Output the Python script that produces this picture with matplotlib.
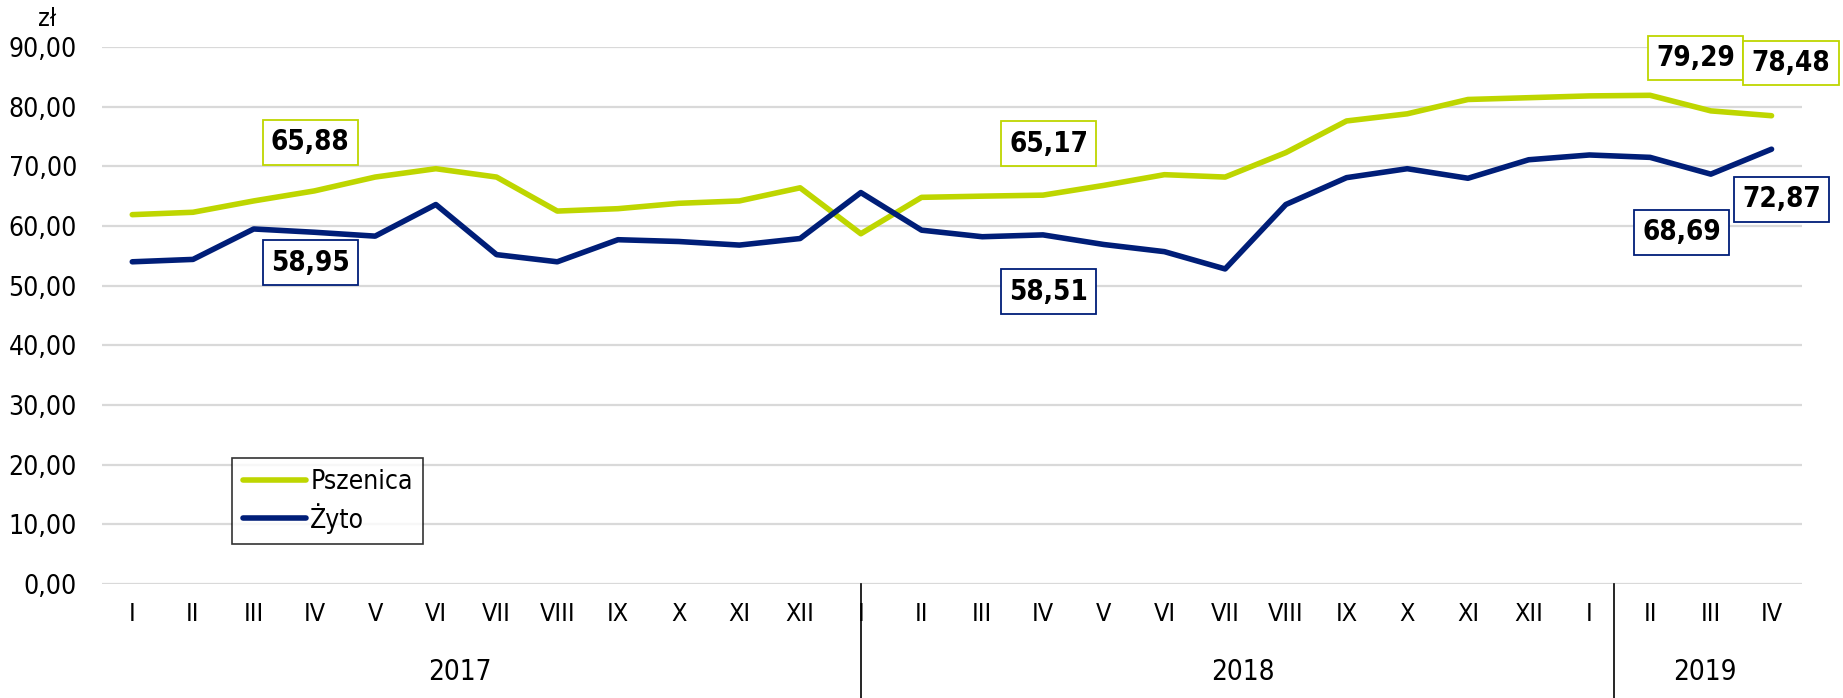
import numpy as np
import matplotlib
matplotlib.use('Agg')
import matplotlib.pyplot as plt

plt.rcParams['font.family'] = ['DejaVu Sans']
plt.rcParams['font.stretch'] = 'condensed'

months = ['I', 'II', 'III', 'IV', 'V', 'VI', 'VII', 'VIII', 'IX', 'X', 'XI', 'XII',
          'I', 'II', 'III', 'IV', 'V', 'VI', 'VII', 'VIII', 'IX', 'X', 'XI', 'XII',
          'I', 'II', 'III', 'IV']
years = ['2017', '2018', '2019']

pszenica = [61.9, 62.3, 64.2, 65.88, 68.2, 69.6, 68.2, 62.5, 62.9, 63.8, 64.2, 66.4,
            58.7, 64.8, 65.0, 65.17, 66.8, 68.6, 68.2, 72.3, 77.6, 78.8, 81.2, 81.5,
            81.8, 81.9, 79.29, 78.48]
zyto = [54.0, 54.4, 59.5, 58.95, 58.3, 63.6, 55.2, 54.0, 57.7, 57.4, 56.8, 57.9,
        65.6, 59.3, 58.2, 58.51, 56.9, 55.7, 52.8, 63.6, 68.1, 69.6, 68.0, 71.1,
        71.9, 71.5, 68.69, 72.87]

green = '#BED600'
navy = '#001E78'

fig = plt.figure(figsize=(18.43, 6.98), dpi=100)
ax = fig.add_axes([0.0553, 0.1633, 0.9224, 0.7694])

x = np.arange(len(months))
ax.plot(x, pszenica, color=green, lw=4, label='Pszenica', solid_capstyle='round', zorder=3)
ax.plot(x, zyto, color=navy, lw=4, label='Żyto', solid_capstyle='round', zorder=3)

ax.set_xlim(-0.5, len(months) - 0.5)
ax.set_ylim(0, 90)
ax.set_yticks(np.arange(0, 91, 10))
ax.set_yticklabels([('%.2f' % v).replace('.', ',') for v in np.arange(0, 91, 10)], fontsize=19)
ax.yaxis.grid(True, color='#D9D9D9', lw=1.6)
ax.set_axisbelow(True)
ax.set_xticks(x)
ax.set_xticklabels(months, fontsize=18)
ax.tick_params(length=0, pad=13)
ax.tick_params(axis='y', pad=18)
for s in ax.spines.values():
    s.set_visible(False)

ax.text(-0.0325, 1.03, 'zł', transform=ax.transAxes, fontsize=18, ha='center', va='bottom')

# group separators and years
trans = ax.get_xaxis_transform()
for sx in [12, 24.4]:
    ax.plot([sx, sx], [0, -0.215], color='black', lw=1.2, transform=trans, clip_on=False)
for yx, yl in zip([5.4, 18.3, 25.9], years):
    ax.text(yx, -0.164, yl, transform=trans, ha='center', va='center', fontsize=20)

# data labels
labels = [
    (pszenica, 3, green, (-3, 35)),
    (zyto, 3, navy, (-3, -22)),
    (pszenica, 15, green, (4, 37)),
    (zyto, 15, navy, (4, -41)),
    (pszenica, 26, green, (-11, 38)),
    (pszenica, 27, green, (14, 38)),
    (zyto, 27, navy, (7, -36)),
    (zyto, 26, navy, (-21, -42)),
]
for series, i, col, off in labels:
    ax.annotate(('%.2f' % series[i]).replace('.', ','), (i, series[i]), xytext=off,
                textcoords='offset points', ha='center', va='center', fontsize=20,
                fontweight='semibold',
                bbox=dict(boxstyle='square,pad=0.3', fc='white', ec=col, lw=1.3), zorder=5,
                annotation_clip=False)

leg = ax.legend(loc='lower left', bbox_to_anchor=(0.0768, 0.0744), borderaxespad=0,
                fontsize=19, frameon=True, fancybox=False, edgecolor='black',
                handlelength=2.4, handletextpad=0.15, borderpad=0.4, labelspacing=0.3)
leg.get_frame().set_linewidth(1.2)

fig.savefig('out.png', dpi=100)
